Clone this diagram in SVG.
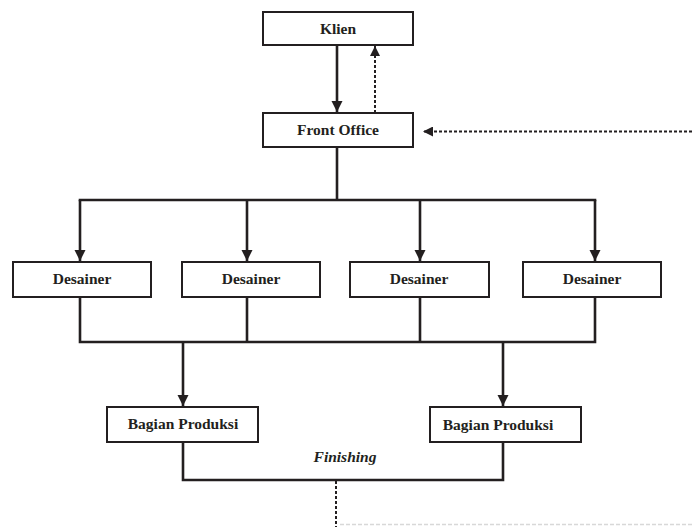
<svg xmlns="http://www.w3.org/2000/svg" width="692" height="527" viewBox="0 0 692 527">
<style>
.box{fill:#fff;stroke:#231f20;stroke-width:2}
.lbl{font-family:"Liberation Serif","Times New Roman",serif;font-weight:bold;font-size:15.5px;fill:#231f20;text-anchor:middle}
.ln{fill:none;stroke:#231f20;stroke-width:2.6}
.dash{fill:none;stroke:#231f20;stroke-width:2;stroke-dasharray:3 2}
</style>
<defs>
<marker id="ah" viewBox="0 0 10 10" refX="10" refY="5" markerWidth="4.4" markerHeight="4.4" markerUnits="strokeWidth" orient="auto">
<path d="M0,0 L10,5 L0,10 Z" fill="#231f20"/>
</marker>
<marker id="ahd" viewBox="0 0 10 10" refX="10" refY="5" markerWidth="5.2" markerHeight="5" markerUnits="strokeWidth" orient="auto">
<path d="M0,0 L10,5 L0,10 Z" fill="#231f20"/>
</marker>
</defs>
<rect width="692" height="527" fill="#fff"/>
<g id="connectors">
<line class="ln" x1="337" y1="45" x2="337" y2="112" marker-end="url(#ah)"/>
<line class="dash" x1="375" y1="113" x2="375" y2="46" marker-end="url(#ahd)"/>
<line class="dash" x1="692" y1="131.5" x2="423" y2="131.5" marker-end="url(#ahd)"/>
<polyline class="ln" points="337,147 337,200"/>
<line class="ln" x1="78.7" y1="200" x2="596.3" y2="200"/>
<line class="ln" x1="80" y1="200" x2="80" y2="261" marker-end="url(#ah)"/>
<line class="ln" x1="247" y1="200" x2="247" y2="261" marker-end="url(#ah)"/>
<line class="ln" x1="420" y1="200" x2="420" y2="261" marker-end="url(#ah)"/>
<line class="ln" x1="595" y1="200" x2="595" y2="261" marker-end="url(#ah)"/>
<polyline class="ln" points="80,297 80,342 595,342 595,297"/>
<line class="ln" x1="247" y1="297" x2="247" y2="342"/>
<line class="ln" x1="420" y1="297" x2="420" y2="342"/>
<line class="ln" x1="183" y1="342" x2="183" y2="406" marker-end="url(#ah)"/>
<line class="ln" x1="503" y1="342" x2="503" y2="406" marker-end="url(#ah)"/>
<polyline class="ln" points="183,442 183,480 503,480 503,442"/>
<line class="dash" x1="336" y1="481" x2="336" y2="527"/>
<line x1="340" y1="524.5" x2="692" y2="524.5" stroke="#d8d8d8" stroke-width="1.5" stroke-dasharray="4 2"/>
</g>
<g id="klien"><rect class="box" x="263" y="12" width="150" height="33"/><text class="lbl" x="338" y="34">Klien</text></g>
<g id="front-office"><rect class="box" x="263" y="113" width="150" height="34"/><text class="lbl" x="338" y="135">Front Office</text></g>
<g id="desainer1"><rect class="box" x="13" y="262" width="138" height="35"/><text class="lbl" x="82" y="284">Desainer</text></g>
<g id="desainer2"><rect class="box" x="182" y="262" width="138" height="35"/><text class="lbl" x="251" y="284">Desainer</text></g>
<g id="desainer3"><rect class="box" x="350" y="262" width="139" height="35"/><text class="lbl" x="419" y="284">Desainer</text></g>
<g id="desainer4"><rect class="box" x="523" y="262" width="138" height="35"/><text class="lbl" x="592" y="284">Desainer</text></g>
<g id="produksi1"><rect class="box" x="107" y="407" width="151" height="35"/><text class="lbl" x="183" y="429">Bagian Produksi</text></g>
<g id="produksi2"><rect class="box" x="430" y="407" width="151" height="35"/><text class="lbl" x="498" y="430">Bagian Produksi</text></g>
<g id="finishing-label"><text class="lbl" x="345" y="462" style="font-style:italic">Finishing</text></g>
</svg>
